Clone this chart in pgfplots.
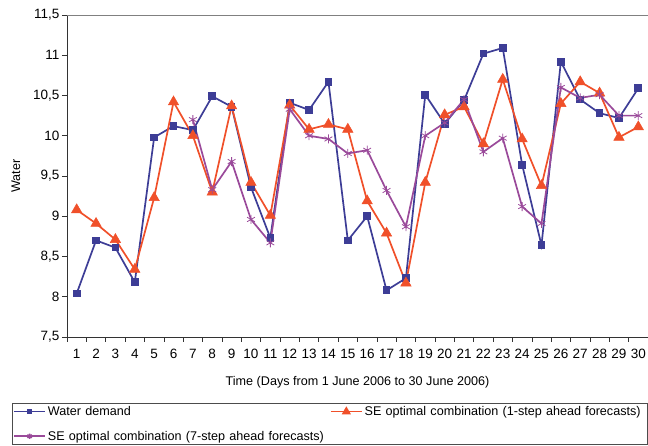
\documentclass[border=0pt]{standalone}
\usepackage{pgfplots}
\pgfplotsset{compat=1.18}
\usepackage{fontspec}
\setmainfont{Liberation Sans}
\definecolor{wdblue}{HTML}{3D3D96}
\definecolor{sered}{HTML}{F0502A}
\definecolor{sepurp}{HTML}{9A4A9A}
\begin{document}
\begin{tikzpicture}
\useasboundingbox (-67pt,-109pt) rectangle (581pt,337pt);
\begin{axis}[
  scale only axis, width=581pt, height=322pt,
  xmin=0.5, xmax=30.5, ymin=7.5, ymax=11.5,
  axis lines=left, axis line style={-, draw=black!80},
  xtick={1,...,30}, major x tick style={draw=none},
  minor xtick={0.5,1.5,...,30.5},
  minor tick length=5pt, major tick length=5pt,
  tick align=outside,
  tick style={black!80, line width=0.6pt},
  ytick={7.5,8,8.5,9,9.5,10,10.5,11,11.5},
  yticklabels={{7,5},8,{8,5},9,{9,5},10,{10,5},11,{11,5}},
  /pgf/number format/assume math mode=true,
  tick label style={font=\fontsize{13.5}{15}\selectfont},
  xticklabel style={yshift=-4pt},
  yticklabel style={xshift=1pt},
  label style={font=\fontsize{12.6}{15}\selectfont},
  xlabel={Time (Days from 1 June 2006 to 30 June 2006)},
  ylabel={Water},
  xlabel style={yshift=-10pt},
  ylabel style={yshift=6pt},
  legend columns=2,
  legend cell align=left,
  legend image code/.code={\draw[mark repeat=2,mark phase=2,mark options={scale=0.6}] plot coordinates {(0pt,0pt) (15.5pt,0pt) (31pt,0pt)};},
  legend style={at={(-0.0947,-0.205)}, anchor=north west, draw=black!70, line width=0.6pt,
    font=\fontsize{12.6}{15}\selectfont, inner sep=1pt, row sep=10pt,
    nodes={text width=280pt, inner xsep=2pt, align=left},
    /tikz/every even column/.append style={column sep=0pt}},
]
\draw[gray, line width=0.8pt] (rel axis cs:0,1) -- (rel axis cs:1,1);
\addplot[color=wdblue, line width=1.7pt, mark=square*, mark size=3pt] coordinates {
(1,8.04) (2,8.70) (3,8.61) (4,8.18) (5,9.98) (6,10.12) (7,10.07) (8,10.49) (9,10.36) (10,9.36)
(11,8.73) (12,10.41) (13,10.32) (14,10.67) (15,8.70) (16,9.00) (17,8.08) (18,8.23) (19,10.51) (20,10.15)
(21,10.44) (22,11.02) (23,11.09) (24,9.64) (25,8.64) (26,10.92) (27,10.45) (28,10.28) (29,10.22) (30,10.59)};
\addlegendentry{Water demand}
\addplot[color=sered, line width=1.7pt, mark=triangle*, mark size=6pt, mark options={line width=0.5pt}] coordinates {
(1,9.08) (2,8.91) (3,8.71) (4,8.34) (5,9.23) (6,10.42) (7,10.00) (8,9.30) (9,10.37) (10,9.42)
(11,9.01) (12,10.38) (13,10.08) (14,10.14) (15,10.08) (16,9.19) (17,8.79) (18,8.17) (19,9.42) (20,10.26)
(21,10.36) (22,9.90) (23,10.70) (24,9.96) (25,9.38) (26,10.40) (27,10.67) (28,10.53) (29,9.98) (30,10.11)};
\addlegendentry{SE optimal combination (1-step ahead forecasts)}
\addplot[color=sepurp, line width=1.7pt, mark=asterisk, mark size=4.5pt, mark options={line width=0.8pt}] coordinates {
(7,10.20) (8,9.33) (9,9.68) (10,8.96)
(11,8.67) (12,10.33) (13,10.00) (14,9.96) (15,9.78) (16,9.82) (17,9.32) (18,8.87) (19,10.00) (20,10.16)
(21,10.45) (22,9.80) (23,9.97) (24,9.12) (25,8.91) (26,10.60) (27,10.47) (28,10.51) (29,10.25) (30,10.25)};
\addlegendentry{SE optimal combination (7-step ahead forecasts)}
\end{axis}
\end{tikzpicture}
\end{document}
